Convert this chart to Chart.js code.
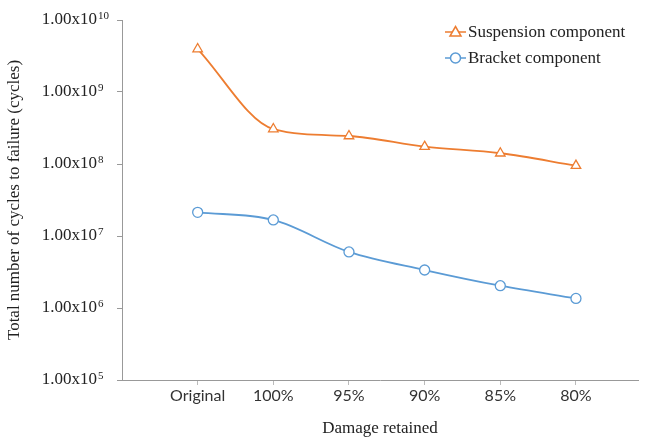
<!DOCTYPE html>
<html>
<head>
<meta charset="utf-8">
<script src="https://cdn.jsdelivr.net/npm/chart.js@4/dist/chart.umd.min.js"></script>
<style>
  html, body { margin: 0; padding: 0; background: #fff; }
  #wrap { width: 649px; height: 443px; }
</style>
</head>
<body>
<div id="wrap"><canvas id="chart"></canvas></div>
<script>
const categories = ['Original', '100%', '95%', '90%', '85%', '80%'];
const suspension = [3.95e9, 3.06e8, 2.45e8, 1.74e8, 1.41e8, 9.5e7];
const bracket = [2.13e7, 1.67e7, 6.0e6, 3.37e6, 2.04e6, 1.36e6];
const yTicks = [1e5, 1e6, 1e7, 1e8, 1e9, 1e10];

const orange = '#ED7D31';
const blue = '#5B9BD5';
const serif = '"Liberation Serif", "Times New Roman", serif';

// exponents of the y tick labels, drawn as superscript next to "1.00x10"
const tickExponents = {
  id: 'tickExponents',
  afterDraw(chart) {
    const ctx = chart.ctx;
    const y = chart.scales.y;
    ctx.save();
    ctx.fillStyle = '#222';
    ctx.font = '11px ' + serif;
    ctx.textAlign = 'left';
    ctx.textBaseline = 'alphabetic';
    y.ticks.forEach(t => {
      const py = y.getPixelForValue(t.value);
      ctx.fillText(String(Math.round(Math.log10(t.value))), 98, py - 1);
    });
    ctx.restore();
  }
};

// legend drawn inside the plot, like the excel one
const plotLegend = {
  id: 'plotLegend',
  afterDraw(chart) {
    const ctx = chart.ctx;
    const items = [
      { text: 'Suspension component', color: orange, style: 'triangle', y: 32 },
      { text: 'Bracket component', color: blue, style: 'circle', y: 58 }
    ];
    ctx.save();
    items.forEach(it => {
      ctx.strokeStyle = it.color;
      ctx.lineWidth = 1.5;
      ctx.beginPath();
      ctx.moveTo(445, it.y);
      ctx.lineTo(466, it.y);
      ctx.stroke();
      ctx.fillStyle = '#fff';
      ctx.beginPath();
      if (it.style === 'circle') {
        ctx.arc(455.5, it.y, 5, 0, Math.PI * 2);
      } else {
        ctx.moveTo(455.5, it.y - 5.5);
        ctx.lineTo(461, it.y + 4);
        ctx.lineTo(450, it.y + 4);
        ctx.closePath();
      }
      ctx.fill();
      ctx.stroke();
      ctx.fillStyle = '#222';
      ctx.font = '17px ' + serif;
      ctx.textBaseline = 'middle';
      ctx.fillText(it.text, 468, it.y + 1);
    });
    ctx.restore();
  }
};

new Chart(document.getElementById('chart'), {
  type: 'line',
  data: {
    datasets: [
      {
        label: 'Suspension component',
        data: suspension.map((v, i) => ({ x: i, y: v })),
        borderColor: orange,
        backgroundColor: '#fff',
        borderWidth: 1.8,
        pointStyle: 'triangle',
        pointRadius: 5.5,
        pointBorderWidth: 1.3,
        cubicInterpolationMode: 'monotone'
      },
      {
        label: 'Bracket component',
        data: bracket.map((v, i) => ({ x: i, y: v })),
        borderColor: blue,
        backgroundColor: '#fff',
        borderWidth: 1.8,
        pointStyle: 'circle',
        pointRadius: 5,
        pointBorderWidth: 1.3,
        cubicInterpolationMode: 'monotone'
      }
    ]
  },
  options: {
    responsive: true,
    maintainAspectRatio: false,
    animation: false,
    layout: { padding: { top: 20, right: 11, left: 0, bottom: 0 } },
    plugins: {
      legend: { display: false },
      tooltip: { enabled: false }
    },
    scales: {
      x: {
        type: 'linear',
        min: -1,
        max: 5.82,
        afterBuildTicks: (scale) => {
          scale.ticks = categories.map((c, i) => ({ value: i }));
        },
        afterFit: (scale) => { scale.height = 63; },
        ticks: {
          callback: (v) => categories[v],
          font: { family: 'Lato', size: 16 },
          color: '#333',
          padding: 1,
          maxRotation: 0,
          autoSkip: false
        },
        grid: { drawOnChartArea: false, tickLength: 5, color: '#bbb' },
        border: { color: '#999' },
        title: {
          display: true,
          text: 'Damage retained',
          font: { family: serif, size: 17 },
          color: '#222',
          padding: { top: 10 }
        }
      },
      y: {
        type: 'logarithmic',
        min: 1e5,
        max: 1e10,
        afterBuildTicks: (scale) => {
          scale.ticks = yTicks.map(v => ({ value: v }));
        },
        afterFit: (scale) => {
          scale.width = 122;
          // tick padding would otherwise push the plot top down
          scale.paddingTop = 0;
          scale.paddingBottom = 0;
        },
        ticks: {
          callback: () => '1.00x10',
          font: { family: serif, size: 17 },
          color: '#222',
          padding: 20
        },
        grid: { drawOnChartArea: false, tickLength: 5, color: '#999' },
        border: { color: '#999' },
        title: {
          display: true,
          text: 'Total number of cycles to failure (cycles)',
          font: { family: serif, size: 17 },
          color: '#222',
          padding: { bottom: 0 }
        }
      }
    }
  },
  plugins: [tickExponents, plotLegend]
});
</script>
</body>
</html>
